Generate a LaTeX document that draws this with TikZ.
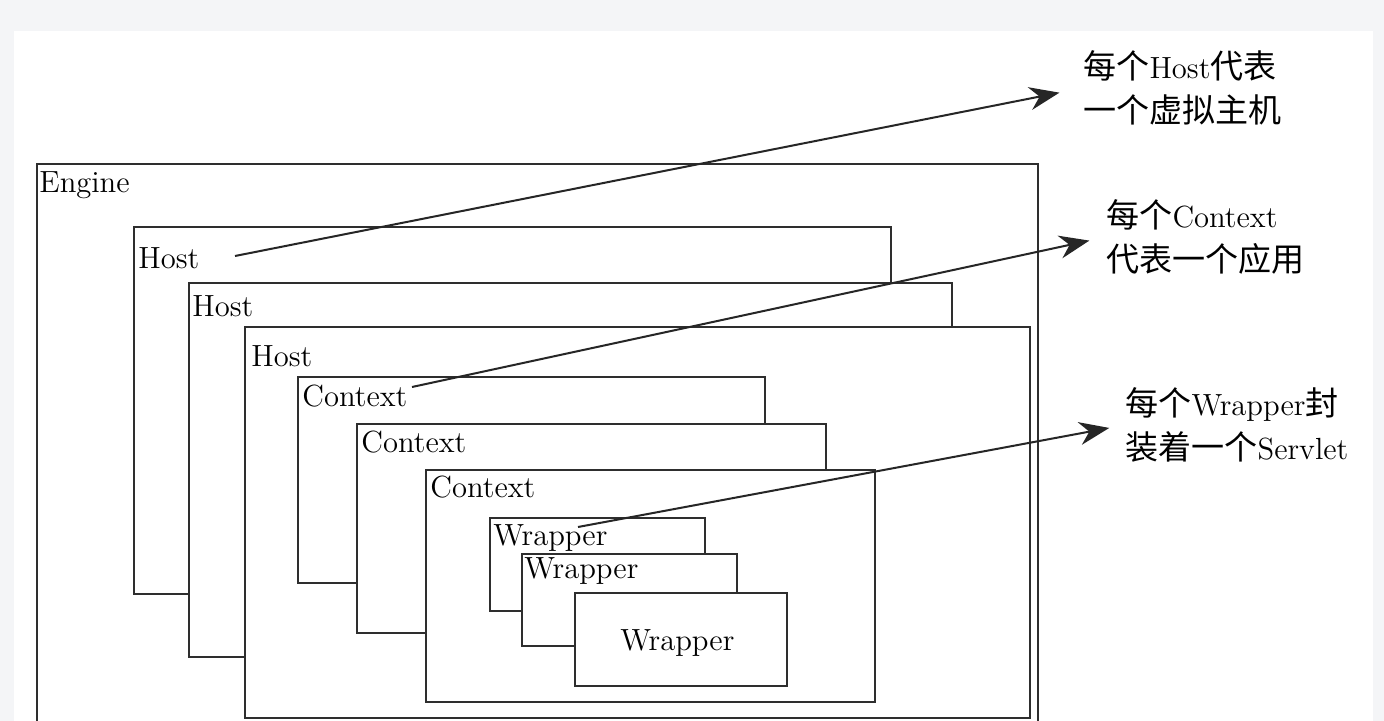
\documentclass[tikz,border=0pt]{standalone}
\usepackage{fontspec}
\usepackage{tikz}
\usetikzlibrary{arrows.meta}
\setmainfont{lmroman12-regular.otf}
\newfontfamily\cjk{Noto Sans CJK SC}[Scale=1.08]
\newcommand{\zh}[1]{{\cjk #1}}
\definecolor{pagegray}{HTML}{F4F5F7}
\definecolor{linegray}{HTML}{2E2E2E}

\begin{document}
\begin{tikzpicture}[x=0.5pt,y=-0.5pt,
    frame/.style={draw=linegray, fill=white},
    lbl/.style={anchor=base west, inner sep=0pt, font=\fontsize{15.3}{18}\selectfont},
    desc/.style={anchor=west, inner sep=0pt, align=left, font=\fontsize{15.3}{22}\selectfont},
    pointer/.style={draw=black!85, line width=1pt, -{Stealth[length=15pt,width=11.5pt]}}]
        % Page
        \useasboundingbox (0,0) rectangle (1384,721);
        \clip (0,0) rectangle (1384,721);
        \fill[pagegray] (0,0) rectangle (1384,721);
        \fill[white] (14,31) rectangle (1373,721);

        % Containers, back to front
        \foreach \name/\x/\y/\X/\Y/\w/\lx/\ly/\txt in {
            engine/37/164/1038/740/1.0/39/193/Engine,
            hostA/134/227/891/594/0.85/138/269/Host,
            hostB/189/283/952/657/0.85/192/316/Host,
            hostC/245/327/1030/718/0.85/251/366/Host,
            ctxA/298/377/765/583/0.85/302/406/Context,
            ctxB/357/424/826/633/0.85/361/452/Context,
            ctxC/426/470/875/702/0.85/430/497/Context,
            wrapA/490/518/705/611/0.85/493/545/Wrapper,
            wrapB/522/554/737/646/0.85/524/578/Wrapper,
            wrapC/575/593/787/686/1.2/620/650/Wrapper}{
        \draw[frame, line width=\w pt] (\x,\y) rectangle (\X,\Y);
        \node[lbl] (\name) at (\lx,\ly) {\txt};
        }

        % Notes
        \node[desc] (hostdesc) at (1083,88) {\zh{每个}Host\zh{代表}\\\zh{一个虚拟主机}};
        \node[desc] (ctxdesc) at (1106,237) {\zh{每个}Context\\\zh{代表一个应用}};
        \node[desc] (wrapdesc) at (1125,425) {\zh{每个}Wrapper\zh{封}\\\zh{装着一个}Servlet};

        \coordinate (hostptr) at (235,256);
        \coordinate (ctxptr) at (412,387);
        \coordinate (wrapptr) at (578,527);
        \draw[pointer, shorten >=12pt] (hostptr) -- (hostdesc.west);
        \draw[pointer, shorten >=8.5pt] (ctxptr) -- (ctxdesc.west);
        \draw[pointer, shorten >=8pt] (wrapptr) -- (wrapdesc.west);
        \end{tikzpicture}
\end{document}
